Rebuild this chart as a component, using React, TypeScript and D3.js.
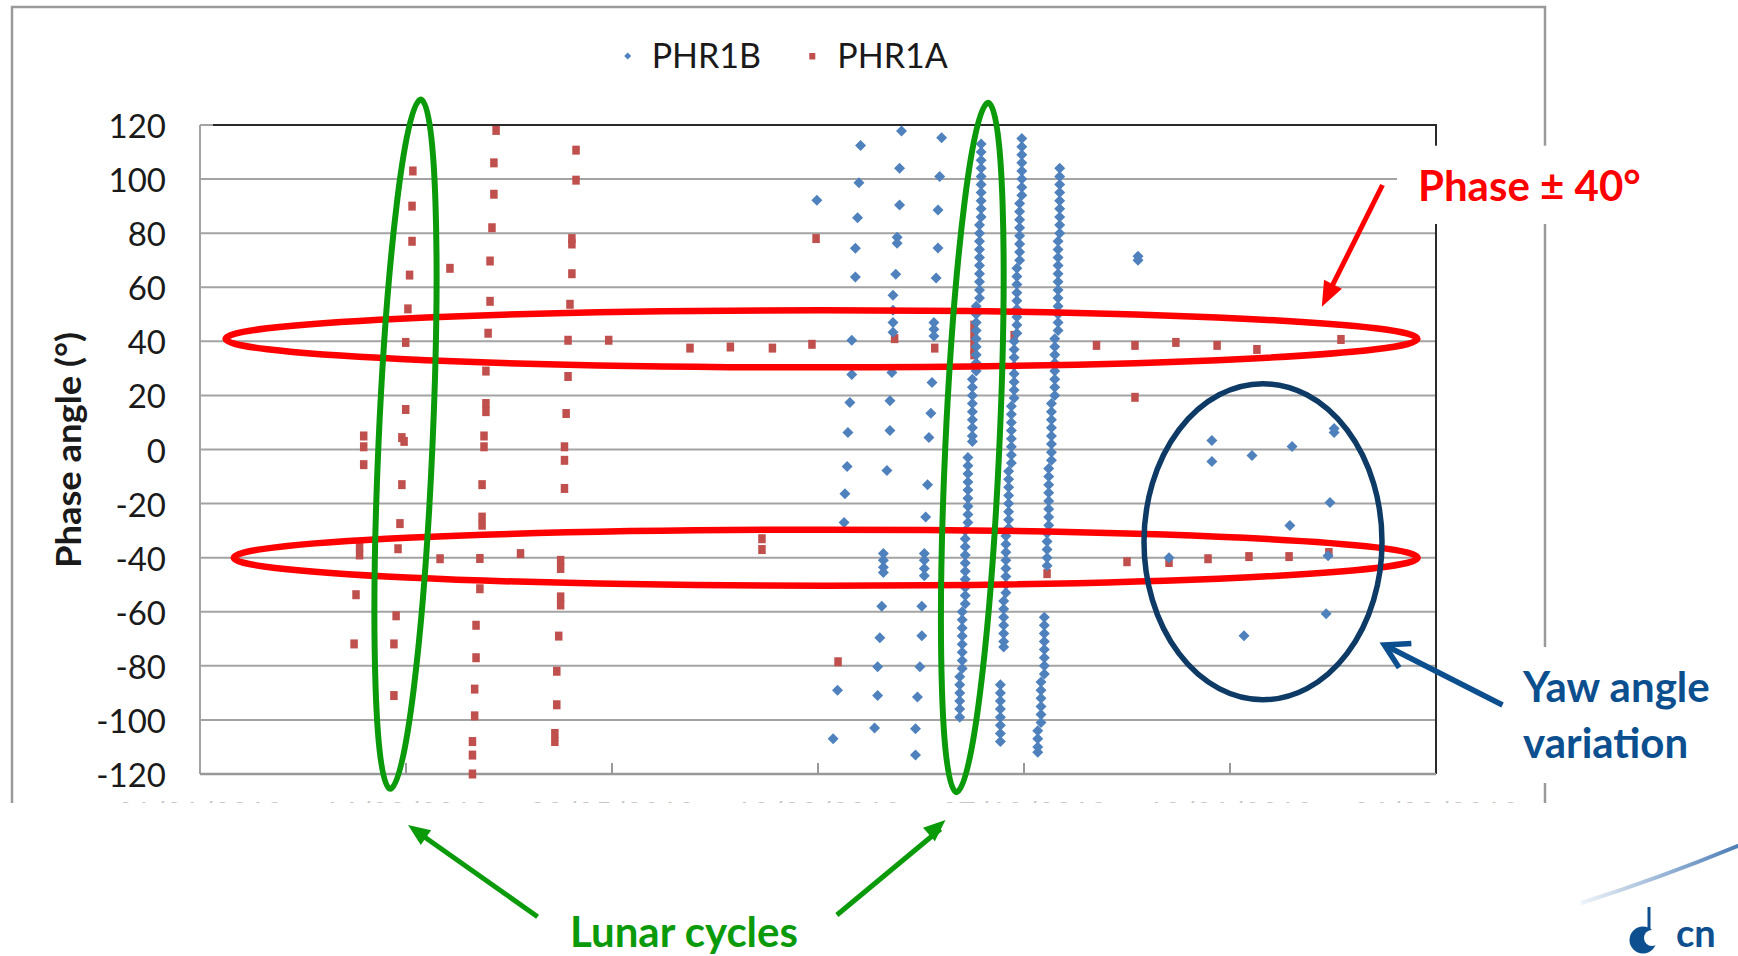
import React from 'react';
import * as d3 from 'd3';

// ---------- axes ----------
const yTicks = [-120, -100, -80, -60, -40, -20, 0, 20, 40, 60, 80, 100, 120];
const xTicks = [0, 75, 150, 225, 300, 375, 450];
const xTickLabels = ['01/01/2012', '16/03/2012', '30/05/2012', '13/08/2012', '27/10/2012', '10/01/2013', '26/03/2013'];
const yTitle = 'Phase angle (°)';
const seriesNames = ['PHR1B', 'PHR1A'];

// ---------- PHR1A (red squares): [day, phase angle] ----------
const phr1aCycle1: [number, number][] = [
  [59.6, 5], [59.6, 1], [59.6, -5.6], [58.1, -36], [58.1, -39], [56.8, -53.7], [56.1, -71.9],
];
const phr1aCycle2: [number, number][] = [
  [77.5, 103], [77.2, 90], [77.2, 77], [76.3, 64.5], [75.7, 52], [74.9, 39.6], [74.9, 14.8],
  [73.5, 4.4], [74.3, 3], [73.5, -13], [72.8, -27.4], [72.1, -36.7], [71.4, -61.5], [70.6, -71.9], [70.6, -91],
];
const phr1aCycle3: [number, number][] = [
  [107.8, 118], [107.0, 106], [107.0, 94.4], [106.3, 82], [105.6, 69.7], [105.6, 54.8], [104.9, 43],
  [104.1, 29], [104.1, 17], [104.1, 14], [103.4, 5], [103.4, 1], [102.7, -13], [102.7, -25], [102.7, -28],
  [101.9, -40.3], [101.9, -51.5], [100.5, -65], [100.5, -77], [100.0, -88.6], [100.0, -98.5],
  [99.2, -108], [99.2, -113], [99.2, -120],
];
const phr1aCycle4: [number, number][] = [
  [136.9, 110.7], [136.9, 99.6], [135.4, 78], [135.4, 76], [135.4, 65], [134.7, 53.7], [134.0, 40.4],
  [134.0, 27], [133.3, 13.3], [132.7, 1], [132.7, -4], [132.7, -14.4], [131.3, -41], [131.3, -44],
  [131.3, -54.5], [131.3, -57.5], [130.6, -69], [129.9, -82], [129.9, -94.4], [129.2, -105], [129.2, -108],
];
const phr1aOthers: [number, number][] = [
  [91.0, 67], [87.4, -40.4], [116.7, -38.5],
  [148.8, 40.4], [178.4, 37.5], [193.1, 37.9], [208.4, 37.5], [222.8, 38.9], [224.3, 78],
  [204.6, -33], [204.6, -37], [232.3, -78.5], [252.9, 41], [267.5, 37.5],
  [281.8, 46], [281.8, 43], [281.8, 40], [281.8, 37], [281.8, 35], [296.4, 42.2], [308.4, -45.9],
  [326.4, 38.5], [340.4, 38.5], [340.4, 19.3], [337.5, -41.5], [355.3, 39.6], [352.8, -41.8],
  [370.3, 38.5], [367.0, -40.4], [384.8, 37], [381.9, -39.6], [396.5, -39.6], [411.0, -38.1], [415.4, 40.7],
];

// ---------- PHR1B (blue diamonds): [day, phase angle] ----------
const phr1bScatter1: [number, number][] = [
  [224.6, 92.2],
  [240.5, 112.4], [239.9, 98.6], [239.4, 85.7], [238.6, 74.4], [238.6, 63.8], [237.3, 40.4], [237.3, 27.7],
  [236.6, 17.4], [235.9, 6.3], [235.6, -6.3], [234.8, -16.4], [234.5, -27], [232.1, -89], [230.5, -107],
];
const phr1bScatter2: [number, number][] = [
  [255.4, 117.8], [254.7, 104], [254.7, 90.4], [253.8, 78.5], [253.8, 76.3], [253.3, 64.8], [252.3, 57],
  [252.3, 51.5], [252.3, 47], [252.3, 43.4], [251.9, 28.5], [251.2, 18], [251.2, 7], [250.1, -7.8],
  [248.8, -38.5], [248.8, -41], [248.8, -43.5], [248.8, -45.5], [248.2, -58], [247.5, -69.6],
  [246.7, -80.3], [246.7, -91], [245.6, -103],
];
const phr1bScatter3: [number, number][] = [
  [270.0, 115.3], [269.3, 101], [268.7, 88.6], [268.7, 74.5], [268.0, 63.4], [267.2, 47], [267.2, 44.5],
  [267.2, 42], [266.5, 24.8], [266.1, 13.4], [265.4, 4.4], [264.9, -13], [264.2, -25], [263.7, -38.5],
  [263.7, -41], [263.7, -44], [263.7, -46.7], [262.8, -58], [262.8, -68.9], [262.1, -80.3],
  [261.2, -91.5], [260.5, -103.3], [260.5, -113],
];
const phr1bYaw: [number, number][] = [
  [341.5, 70], [341.5, 71.5], [352.8, -40], [368.4, 3.3], [368.4, -4.4], [383.0, -2.2], [380.1, -68.9],
  [397.6, 1.1], [396.8, -28.1], [412.9, 6.3], [412.9, 7.8], [411.4, -19.6], [410.7, -39.3], [410.0, -60.7],
];
// dense lunar-cycle columns: [day, list of phase angles]
const phr1bDense1: [number, number[]][] = [
  [284.4, [113, 110, 107, 104, 101, 98, 95, 92, 89, 86]],
  [283.8, [83, 80, 77, 74, 71, 68, 65, 62, 59, 56]],
  [282.6, [53, 50, 47, 44, 41, 38, 35, 32, 29]],
  [281.2, [26, 23, 20, 17, 14, 11, 8, 5, 3]],
  [279.6, [-3, -6, -9, -12, -15, -18, -21, -24, -27]],
  [278.6, [-30, -33, -36, -39, -42, -45, -48, -51, -54, -57]],
  [277.5, [-60, -63, -66, -69, -72, -75, -78, -81]],
  [276.6, [-84, -87, -90, -93, -96, -99]],
];
const phr1bDense2: [number, number[]][] = [
  [299.2, [115, 112, 109, 106, 103, 100, 97, 94]],
  [298.4, [91, 88, 85, 82, 79, 76, 73, 70]],
  [297.4, [67, 64, 61, 58, 55, 52, 49, 46, 43]],
  [296.4, [40, 37, 34, 31, 28, 25, 22, 19]],
  [295.4, [16, 13, 10, 7, 4, 1, -2, -5]],
  [294.4, [-8, -11, -14, -17, -20, -23, -26, -29]],
  [293.4, [-32, -35, -38, -41, -44, -47, -50, -53]],
  [292.6, [-56, -59, -62, -65, -68, -71, -73]],
  [291.4, [-87, -90, -93, -96, -99, -102, -105, -108]],
];
const phr1bDense3: [number, number[]][] = [
  [313.0, [104, 101, 98, 95, 92, 89, 86, 83, 80]],
  [312.4, [77, 74, 71, 68, 65, 62, 59, 56, 53, 50, 47, 44]],
  [311.2, [41, 38, 35, 32, 29, 26, 23, 20]],
  [310.0, [17, 14, 11, 8, 5, 2, -1, -4]],
  [309.0, [-7, -10, -13, -16, -19, -22, -25, -28]],
  [308.4, [-31, -34, -37, -40, -43]],
  [307.4, [-62, -65, -68, -71, -74, -77, -80, -83]],
  [306.2, [-86, -89, -92, -95, -98, -101]],
  [305.0, [-104, -107, -110, -112]],
];

const BLUE = '#4F81BD';
const RED = '#C0504D';
const FONT = "Lato, 'Open Sans', sans-serif";

function expand(cols: [number, number[]][]): [number, number][] {
  const out: [number, number][] = [];
  cols.forEach(([d, arr]) => arr.forEach((a) => out.push([d, a])));
  return out;
}

function arrowHead(tail: [number, number], tip: [number, number], len: number, hw: number) {
  const dx = tip[0] - tail[0];
  const dy = tip[1] - tail[1];
  const L = Math.hypot(dx, dy);
  const ux = dx / L, uy = dy / L;
  const bx = tip[0] - ux * len, by = tip[1] - uy * len;
  const nx = -uy, ny = ux;
  return `M${tip[0]},${tip[1]}L${bx + nx * hw},${by + ny * hw}L${bx - nx * hw},${by - ny * hw}Z`;
}
function chevron(tail: [number, number], tip: [number, number], len: number, deg: number) {
  const a = Math.atan2(tail[1] - tip[1], tail[0] - tip[0]);
  const r = (deg * Math.PI) / 180;
  const p1 = [tip[0] + len * Math.cos(a + r), tip[1] + len * Math.sin(a + r)];
  const p2 = [tip[0] + len * Math.cos(a - r), tip[1] + len * Math.sin(a - r)];
  return `M${p1[0]},${p1[1]}L${tip[0]},${tip[1]}L${p2[0]},${p2[1]}`;
}

export default function App() {
  const x = d3.scaleLinear().domain([0, 450]).range([200, 1436]);
  const y = d3.scaleLinear().domain([-120, 120]).range([774, 125]);

  const redPts = [...phr1aCycle1, ...phr1aCycle2, ...phr1aCycle3, ...phr1aCycle4, ...phr1aOthers];
  const bluePts = [
    ...phr1bScatter1, ...phr1bScatter2, ...phr1bScatter3, ...phr1bYaw,
    ...expand(phr1bDense1), ...expand(phr1bDense2), ...expand(phr1bDense3),
  ];
  const diamond = 'M0,-5.5L5.5,0L0,5.5L-5.5,0Z';

  const redTail: [number, number] = [1382.5, 185];
  const redTip: [number, number] = [1321.8, 306.7];
  const blueTail: [number, number] = [1502.5, 705];
  const blueTip: [number, number] = [1384.4, 645];
  const g1Tail: [number, number] = [537.6, 916.7];
  const g1Tip: [number, number] = [408, 825];
  const g2Tail: [number, number] = [836.9, 915];
  const g2Tip: [number, number] = [945.5, 820];

  return (
    <div style={{ position: 'absolute', left: 0, top: 0 }}>
      <svg width={1738} height={956} style={{ display: 'block', background: '#fff' }} fontFamily={FONT}>
        <defs>
          <clipPath id="lblclip">
            <rect x={0} y={0} width={1738} height={803} />
          </clipPath>
          <linearGradient id="swoosh" x1="0" x2="1" y1="0" y2="0">
            <stop offset="0" stopColor="#eef3f9" />
            <stop offset="1" stopColor="#4a7cb5" />
          </linearGradient>
        </defs>

        {/* outer chart frame (bottom cropped) */}
        <path d="M12,803 L12,7 L1545,7 L1545,803" fill="none" stroke="#9a9a9a" strokeWidth={2.5} />

        {/* legend */}
        <path d="M627.7,52.5L631.2,56L627.7,59.5L624.2,56Z" fill={BLUE} />
        <text x={651.7} y={67.7} fontSize={34} fill="#1a1a1a">{seriesNames[0]}</text>
        <rect x={809.3} y={53} width={6} height={6.5} fill={RED} />
        <text x={837.3} y={67.7} fontSize={34} fill="#1a1a1a">{seriesNames[1]}</text>

        {/* gridlines */}
        {yTicks.map((t) => (
          <line key={t} x1={200} x2={1436} y1={y(t)} y2={y(t)} stroke="#a3a3a3" strokeWidth={2} />
        ))}
        {/* plot borders */}
        <line x1={213} x2={1437} y1={y(120)} y2={y(120)} stroke="#2a2a2a" strokeWidth={2} />
        <line x1={1436} x2={1436} y1={y(120)} y2={y(-120)} stroke="#2a2a2a" strokeWidth={2} />
        <line x1={200} x2={200} y1={y(120)} y2={y(-120)} stroke="#a3a3a3" strokeWidth={2} />
        <line x1={200} x2={1436} y1={y(-120)} y2={y(-120)} stroke="#999" strokeWidth={2.5} />
        {xTicks.slice(1, -1).map((t) => (
          <line key={t} x1={x(t)} x2={x(t)} y1={y(-120)} y2={y(-120) - 11} stroke="#999" strokeWidth={2} />
        ))}

        {/* y tick labels */}
        {yTicks.map((t) => (
          <text key={t} x={166} y={y(t) + 13} fontSize={33} textAnchor="end" fill="#1a1a1a">{t}</text>
        ))}
        <text transform={`translate(81,450) rotate(-90)`} fontSize={34} fontWeight="bold" textAnchor="middle"
          textLength={236} lengthAdjust="spacingAndGlyphs" fill="#1a1a1a">{yTitle}</text>

        {/* x tick labels (cropped off in the original, only their tops remain) */}
        <g clipPath="url(#lblclip)">
          {xTicks.map((t, i) => (
            <text key={t} x={x(t)} y={823.5} fontSize={30} textAnchor="middle" fill="#c4c4c4">{xTickLabels[i]}</text>
          ))}
        </g>

        {/* data */}
        {redPts.map(([d, a], i) => (
          <rect key={'r' + i} x={x(d) - 3.75} y={y(a) - 4.5} width={7.5} height={9} fill={RED} />
        ))}
        {bluePts.map(([d, a], i) => (
          <path key={'b' + i} d={diamond} transform={`translate(${x(d)},${y(a)})`} fill={BLUE} />
        ))}

        {/* annotations: red ellipses */}
        <ellipse cx={821.5} cy={y(40) - 2.5} rx={596} ry={28.5} fill="none" stroke="#ff0000" strokeWidth={6.5} />
        <ellipse cx={825.7} cy={y(-40)} rx={592} ry={28} fill="none" stroke="#ff0000" strokeWidth={6.5} />
        {/* green lunar-cycle ellipses */}
        <ellipse cx={0} cy={0} rx={27} ry={345} transform="translate(405.5,444.2) rotate(2.55)" fill="none" stroke="#0a9a0a" strokeWidth={6} />
        <ellipse cx={0} cy={0} rx={27} ry={345} transform="translate(972.3,447.5) rotate(2.64)" fill="none" stroke="#0a9a0a" strokeWidth={6} />
        {/* blue yaw ellipse */}
        <ellipse cx={1263} cy={541.7} rx={119} ry={158} fill="none" stroke="#0e3a66" strokeWidth={5.5} />

        {/* white label boxes */}
        <rect x={1397} y={145.7} width={270} height={78.3} fill="#fff" />
        <rect x={1508} y={647} width={230} height={136} fill="#fff" />

        {/* Phase label + arrow */}
        <text x={1418} y={201} fontSize={42} fontWeight="bold" fill="#ff0000">Phase ± 40°</text>
        <line x1={redTail[0]} y1={redTail[1]} x2={redTip[0] + 6} y2={redTip[1] - 12} stroke="#ff0000" strokeWidth={5} />
        <path d={arrowHead(redTail, redTip, 25, 10)} fill="#ff0000" />

        {/* Yaw label + arrow */}
        <text x={1523} y={702} fontSize={42} fontWeight="bold" fill="#0c4f8f">Yaw angle</text>
        <text x={1523} y={758} fontSize={42} fontWeight="bold" fill="#0c4f8f">variation</text>
        <line x1={blueTail[0]} y1={blueTail[1]} x2={blueTip[0] + 2} y2={blueTip[1] + 1} stroke="#0c4f8f" strokeWidth={5.5} />
        <path d={chevron(blueTail, blueTip, 27, 30)} fill="none" stroke="#0c4f8f" strokeWidth={5.5} strokeLinejoin="miter" />

        {/* Lunar cycles label + arrows */}
        <text x={684} y={947} fontSize={42} fontWeight="bold" fill="#0a9a0a" textAnchor="middle">Lunar cycles</text>
        <line x1={g1Tail[0]} y1={g1Tail[1]} x2={g1Tip[0] + 8} y2={g1Tip[1] + 6} stroke="#0a9a0a" strokeWidth={5} />
        <path d={arrowHead(g1Tail, g1Tip, 22, 9)} fill="#0a9a0a" />
        <line x1={g2Tail[0]} y1={g2Tail[1]} x2={g2Tip[0] - 5} y2={g2Tip[1] + 9} stroke="#0a9a0a" strokeWidth={5} />
        <path d={arrowHead(g2Tail, g2Tip, 22, 9)} fill="#0a9a0a" />

        {/* CNES logo fragment */}
        <path d="M1581,903 Q1660,878 1740,845" fill="none" stroke="url(#swoosh)" strokeWidth={4} />
        <line x1={1649} x2={1649} y1={907} y2={930} stroke="#0d4f8f" strokeWidth={3} />
        <circle cx={1643} cy={940} r={13.5} fill="#0d4f8f" />
        <circle cx={1652} cy={938} r={8} fill="#fff" />
        <text x={1676} y={947} fontSize={38} fontWeight="bold" fill="#0d4f8f">cn</text>
      </svg>
    </div>
  );
}
